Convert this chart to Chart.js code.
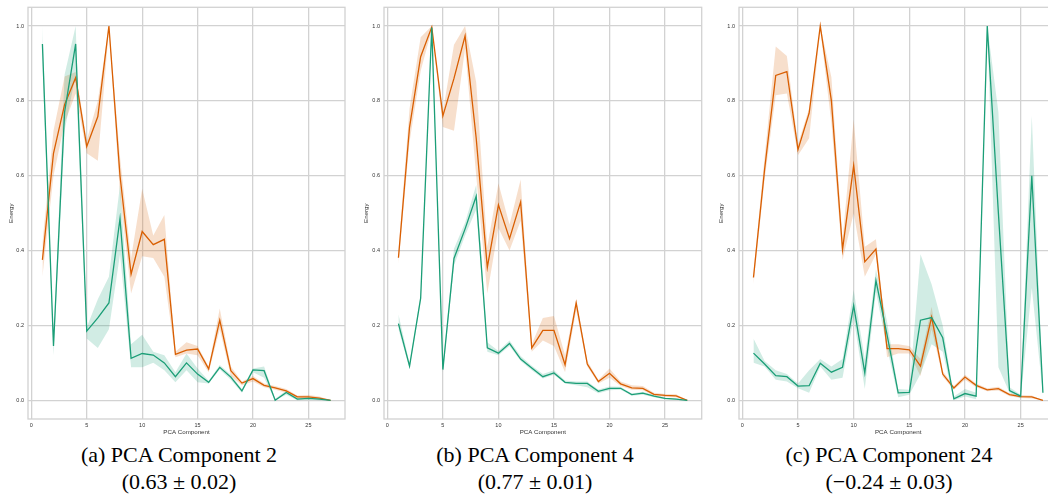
<!DOCTYPE html>
<html>
<head>
<meta charset="utf-8">
<script src="https://cdn.jsdelivr.net/npm/chart.js@4.4.0/dist/chart.umd.min.js"></script>
<style>
  body { margin: 0; width: 1048px; height: 496px; overflow: hidden; background: #fff; position: relative; }
  canvas { position: absolute; top: 0; }
  .cap { position: absolute; top: 441px; width: 360px; text-align: center;
         font-family: "Liberation Serif", "Times New Roman", serif; font-size: 22px; line-height: 27px; color: #000; }
</style>
</head>
<body>
<canvas id="c1" width="350" height="440" style="left:0px"></canvas>
<canvas id="c2" width="350" height="440" style="left:355px"></canvas>
<canvas id="c3" width="360" height="440" style="left:700px"></canvas>
<div class="cap" style="left:-1px">(a) PCA Component 2<br>(0.63 ± 0.02)</div>
<div class="cap" style="left:355px">(b) PCA Component 4<br>(0.77 ± 0.01)</div>
<div class="cap" style="left:709px">(c) PCA Component 24<br>(−0.24 ± 0.03)</div>
<script>
// PCA components on the x axis
const steps = [1,2,3,4,5,6,7,8,9,10,11,12,13,14,15,16,17,18,19,20,21,22,23,24,25,26,27];
const xTicks = [0, 5, 10, 15, 20, 25];
const yTicks = [0, 0.2, 0.4, 0.6, 0.8, 1.0];

// (a) PCA Component 2
const p1OrangeMean = [0.375,0.66,0.79,0.862,0.678,0.758,1.0,0.60,0.337,0.451,0.416,0.43,0.123,0.134,0.137,0.084,0.214,0.079,0.046,0.058,0.04,0.033,0.025,0.009,0.009,0.006,0.0];
const p1OrangeLo   = [0.33,0.60,0.74,0.82,0.66,0.64,0.99,0.55,0.285,0.385,0.38,0.33,0.115,0.125,0.12,0.075,0.19,0.065,0.04,0.05,0.035,0.028,0.02,0.004,0.005,0.003,0.0];
const p1OrangeHi   = [0.42,0.72,0.865,0.877,0.695,0.80,1.0,0.65,0.38,0.565,0.44,0.495,0.13,0.155,0.145,0.09,0.245,0.09,0.05,0.065,0.045,0.038,0.03,0.013,0.014,0.01,0.0];
const p1GreenMean  = [0.952,0.145,0.77,0.952,0.185,0.22,0.26,0.485,0.112,0.125,0.121,0.1,0.063,0.1,0.07,0.048,0.088,0.062,0.025,0.081,0.079,0.0,0.021,0.003,0.005,0.003,0.0];
const p1GreenLo    = [0.90,0.12,0.72,0.87,0.165,0.14,0.19,0.39,0.088,0.088,0.10,0.08,0.048,0.08,0.048,0.045,0.082,0.055,0.02,0.075,0.06,0.0,0.015,0.0,0.002,0.0,0.0];
const p1GreenHi    = [1.0,0.15,0.87,1.0,0.195,0.27,0.33,0.575,0.15,0.175,0.13,0.12,0.075,0.125,0.085,0.052,0.094,0.068,0.03,0.085,0.09,0.004,0.026,0.006,0.008,0.005,0.0];

// (b) PCA Component 4
const p2OrangeMean = [0.381,0.73,0.918,0.997,0.76,0.86,0.974,0.70,0.355,0.522,0.432,0.53,0.14,0.187,0.187,0.095,0.26,0.097,0.05,0.072,0.044,0.033,0.032,0.016,0.013,0.012,0.0];
const p2OrangeLo   = [0.365,0.69,0.88,0.99,0.73,0.72,0.94,0.60,0.285,0.46,0.40,0.48,0.13,0.16,0.145,0.075,0.24,0.09,0.045,0.06,0.038,0.028,0.027,0.012,0.009,0.008,0.0];
const p2OrangeHi   = [0.40,0.78,0.97,1.0,0.77,0.95,1.0,0.85,0.41,0.58,0.47,0.59,0.15,0.22,0.225,0.12,0.27,0.105,0.055,0.085,0.05,0.04,0.038,0.02,0.017,0.016,0.0];
const p2GreenMean  = [0.205,0.091,0.273,0.996,0.082,0.379,0.458,0.545,0.14,0.126,0.152,0.11,0.086,0.063,0.073,0.048,0.045,0.045,0.024,0.032,0.032,0.015,0.019,0.011,0.005,0.003,0.0];
const p2GreenLo    = [0.19,0.085,0.265,0.99,0.075,0.36,0.44,0.51,0.13,0.12,0.145,0.105,0.08,0.058,0.068,0.045,0.04,0.035,0.019,0.027,0.028,0.012,0.015,0.008,0.003,0.001,0.0];
const p2GreenHi    = [0.23,0.098,0.28,1.0,0.09,0.405,0.475,0.575,0.155,0.132,0.16,0.118,0.092,0.07,0.08,0.053,0.05,0.05,0.029,0.037,0.036,0.018,0.023,0.014,0.007,0.005,0.0];

// (c) PCA Component 24
const p3OrangeMean = [0.328,0.617,0.868,0.878,0.67,0.767,1.0,0.80,0.403,0.627,0.37,0.404,0.138,0.138,0.135,0.091,0.222,0.07,0.033,0.062,0.04,0.028,0.031,0.015,0.01,0.009,0.0];
const p3OrangeLo   = [0.31,0.59,0.815,0.82,0.655,0.70,0.99,0.74,0.375,0.50,0.33,0.39,0.115,0.125,0.125,0.065,0.19,0.063,0.028,0.055,0.035,0.024,0.026,0.011,0.006,0.005,0.0];
const p3OrangeHi   = [0.34,0.65,0.945,0.92,0.685,0.78,1.0,0.863,0.43,0.75,0.41,0.43,0.15,0.15,0.145,0.11,0.25,0.078,0.038,0.068,0.045,0.032,0.036,0.019,0.014,0.013,0.0];
const p3GreenMean  = [0.126,0.097,0.066,0.063,0.038,0.039,0.099,0.075,0.088,0.253,0.073,0.32,0.175,0.02,0.021,0.214,0.221,0.167,0.004,0.018,0.011,1.0,0.5,0.026,0.011,0.6,0.02];
const p3GreenLo    = [0.10,0.09,0.055,0.05,0.032,0.02,0.09,0.055,0.06,0.22,0.03,0.29,0.14,0.008,0.015,0.07,0.15,0.13,0.0,0.01,0.003,1.0,0.088,0.02,0.005,0.30,0.015];
const p3GreenHi    = [0.165,0.105,0.08,0.07,0.045,0.08,0.11,0.09,0.11,0.295,0.11,0.35,0.21,0.03,0.028,0.39,0.31,0.2,0.01,0.03,0.02,1.0,0.77,0.035,0.015,0.76,0.025];

const orange = '#d95f02', orangeBand = 'rgba(217,95,2,0.2)';
const green = '#1b9e77', greenBand = 'rgba(27,158,119,0.2)';
const gridColor = '#d2d2d2';
const sans = '"Liberation Sans", Arial, sans-serif';

const pts = arr => steps.map((s, i) => ({ x: s, y: arr[i] }));

// box round the plot area, like the seaborn spines
const framePlugin = {
  id: 'frame',
  beforeDatasetsDraw(chart) {
    const { ctx, chartArea: a } = chart;
    ctx.save();
    ctx.strokeStyle = gridColor;
    ctx.lineWidth = 1.3;
    ctx.strokeRect(a.left, a.top, a.right - a.left, a.bottom - a.top);
    ctx.restore();
  }
};

function band(data, color, order, fill) {
  return { data: pts(data), borderWidth: 0, borderColor: 'rgba(0,0,0,0)', backgroundColor: color,
           pointRadius: 0, fill: fill, order: order, tension: 0 };
}
function line(data, color, order) {
  return { data: pts(data), borderColor: color, borderWidth: 1.3, pointRadius: 0,
           fill: false, order: order, tension: 0 };
}

function makePanel(id, yWidth, titlePad, padRight, o, g) {
  new Chart(document.getElementById(id), {
    type: 'line',
    data: {
      datasets: [
        band(g[2], greenBand, 3, false),
        band(g[1], greenBand, 2, '-1'),
        line(g[0], green, 0),
        band(o[2], orangeBand, 5, false),
        band(o[1], orangeBand, 4, '-1'),
        line(o[0], orange, 1)
      ]
    },
    options: {
      responsive: false,
      animation: false,
      layout: { padding: { top: 3, right: padRight, left: 0, bottom: 0 } },
      plugins: { legend: { display: false }, tooltip: { enabled: false } },
      scales: {
        x: {
          type: 'linear', min: -0.3, max: 28.3,
          afterBuildTicks: s => { s.ticks = xTicks.map(v => ({ value: v })); },
          afterFit: s => { s.height = 21; },
          grid: { color: gridColor, lineWidth: 1.3, drawTicks: false },
          border: { display: false },
          ticks: { font: { size: 5.5, family: sans }, color: '#333', padding: 3, maxRotation: 0 },
          title: { display: true, text: 'PCA Component', font: { size: 6.2, family: sans }, color: '#333',
                   padding: { top: 0, bottom: 3.6 } }
        },
        y: {
          type: 'linear', min: -0.05, max: 1.05,
          afterBuildTicks: s => { s.ticks = yTicks.map(v => ({ value: v })); },
          afterFit: s => { s.width = yWidth; },
          grid: { color: gridColor, lineWidth: 1.3, drawTicks: false },
          border: { display: false },
          ticks: { font: { size: 5.5, family: sans }, color: '#333', padding: 4,
                   callback: v => v.toFixed(1) },
          title: { display: true, text: 'Energy', font: { size: 6.2, family: sans }, color: '#333',
                   padding: { top: titlePad, bottom: 0 } }
        }
      }
    },
    plugins: [framePlugin]
  });
}

makePanel('c1', 28, 7.4, 5,
  [p1OrangeMean, p1OrangeLo, p1OrangeHi], [p1GreenMean, p1GreenLo, p1GreenHi]);
makePanel('c2', 29, 8, 3.3,
  [p2OrangeMean, p2OrangeLo, p2OrangeHi], [p2GreenMean, p2GreenLo, p2GreenHi]);
makePanel('c3', 39, 18, 2.6,
  [p3OrangeMean, p3OrangeLo, p3OrangeHi], [p3GreenMean, p3GreenLo, p3GreenHi]);
</script>
</body>
</html>
